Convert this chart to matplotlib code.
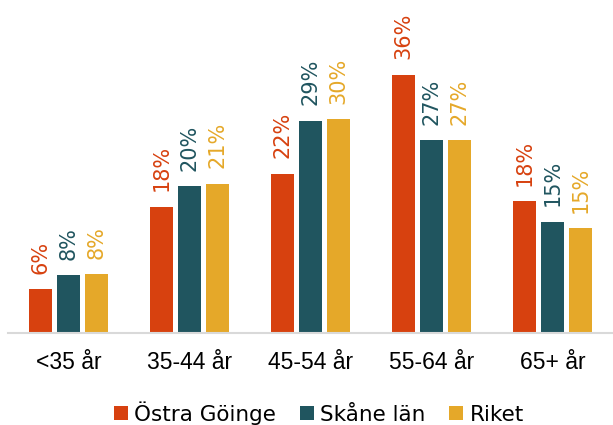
import numpy as np
import matplotlib.pyplot as plt

categories = ["<35 år", "35-44 år", "45-54 år", "55-64 år", "65+ år"]
series = ["Östra Göinge", "Skåne län", "Riket"]
ostra = [6.1, 17.6, 22.2, 36.0, 18.4]
skane = [8.1, 20.5, 29.6, 26.9, 15.5]
riket = [8.2, 20.8, 29.8, 26.9, 14.6]
labels_ostra = ["6%", "18%", "22%", "36%", "18%"]
labels_skane = ["8%", "20%", "29%", "27%", "15%"]
labels_riket = ["8%", "21%", "30%", "27%", "15%"]
colors = ["#D7410F", "#20555F", "#E5A829"]

fig = plt.figure(figsize=(6.13, 4.25), dpi=100)
ax = fig.add_axes([0.013, 0.2165, 0.987, 0.7835])

x = np.arange(len(categories))
w = 0.185
step = 0.232
data = [ostra, skane, riket]
labs = [labels_ostra, labels_skane, labels_riket]
for i, (vals, lb, c, name) in enumerate(zip(data, labs, colors, series)):
    pos = x + (i - 1) * step
    ax.bar(pos, vals, width=w, color=c, label=name)
    for p, v, t in zip(pos, vals, lb):
        ax.annotate(t, (p, v), xytext=(0, 11), textcoords="offset points",
                    rotation=90, ha="center", va="bottom", color=c,
                    fontsize=15, family="DejaVu Sans")

ax.set_xlim(-0.5, 4.5)
ax.set_ylim(0, 46.4)
ax.set_yticks([])
ax.set_xticks(x)
ax.set_xticklabels(categories, family="Liberation Sans", fontsize=16.5)
ax.tick_params(axis="x", length=0, pad=13)
for s in ["top", "right", "left"]:
    ax.spines[s].set_visible(False)
ax.spines["bottom"].set_color("#d9d9d9")
ax.spines["bottom"].set_linewidth(1.5)

fig.legend(loc="lower center", bbox_to_anchor=(0.52, -0.045), ncol=3, frameon=False,
           prop={"family": "DejaVu Sans", "size": 15.5}, handlelength=0.65,
           handleheight=0.65, handletextpad=0.3, columnspacing=1.1)

fig.savefig("out.png", dpi=100)
